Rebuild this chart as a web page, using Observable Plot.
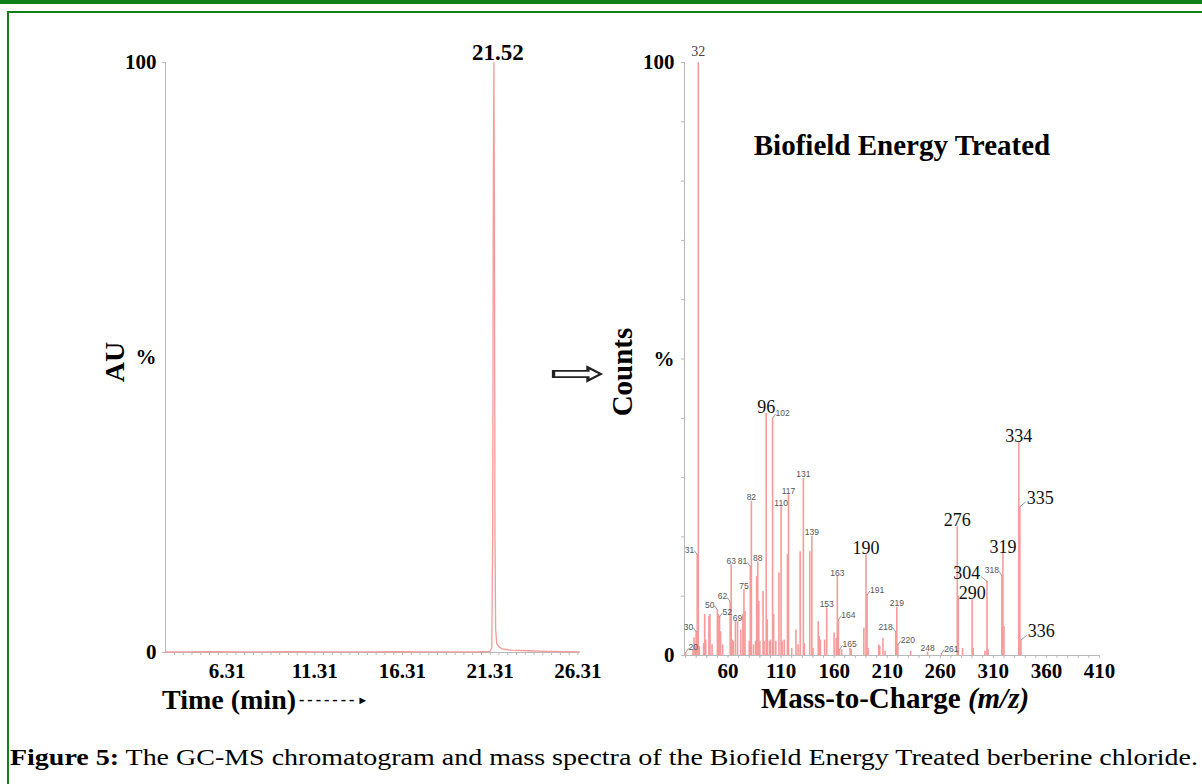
<!DOCTYPE html>
<html><head><meta charset="utf-8">
<script src="https://cdn.jsdelivr.net/npm/d3@7"></script>
<script src="https://cdn.jsdelivr.net/npm/@observablehq/plot@0.6"></script>
<style>
html,body{margin:0;padding:0;background:#fff;}
#fig{position:relative;width:1202px;height:784px;overflow:hidden;background:#fff;font-family:"Liberation Serif",serif;color:#000;}
.abs{position:absolute;white-space:nowrap;}
.plot{position:absolute;top:0;}
</style></head><body><div id="fig"></div>
<script>
// ---------- DATA ----------
// Left: GC chromatogram (time in min, relative abundance AU %)
const chromTime = [2.8, 4.0, 5.5, 7.0, 8.5, 10.0, 11.5, 13.0, 14.5, 16.0, 17.5, 19.0, 20.5, 21.3, 21.40, 21.45, 21.49, 21.52, 21.55, 21.58, 21.62, 21.68, 21.8, 22.0, 22.5, 23.5, 24.5, 25.5, 26.4];
const chromAU   = [0.1, 0.1, 0.15, 0.1, 0.1, 0.15, 0.1, 0.1, 0.1, 0.15, 0.1, 0.1, 0.1, 0.2, 0.8, 20, 80, 100, 75, 20, 4, 1.5, 1.0, 0.6, 0.4, 0.3, 0.2, 0.15, 0.1];
const retentionPeak = [21.52];
const timeTicks = [6.31, 11.31, 16.31, 21.31, 26.31];

// Right: mass spectrum (m/z, relative counts %)
const mzValues = [20, 27, 28, 29, 30, 31, 32, 33, 37, 38, 39, 42, 43, 45, 50, 51, 52, 53, 55, 62, 63, 64, 65, 67, 69, 72, 74, 75, 76, 80, 81, 82, 84, 86, 87, 88, 89, 90, 93, 94, 96, 97, 99, 100, 102, 103, 105, 108, 110, 111, 113, 116, 117, 120, 124, 126, 128, 131, 132, 137, 139, 140, 145, 146, 147, 151, 153, 160, 162, 163, 164, 165, 167, 175, 176, 188, 190, 191, 192, 202, 203, 206, 208, 218, 219, 220, 232, 248, 261, 276, 277, 281, 290, 291, 302, 304, 305, 318, 319, 320, 334, 335, 336];
const mzCounts = [0.5, 1.0, 3.0, 1.5, 4.0, 17.0, 100, 1.5, 2.0, 6.9, 2.6, 6.6, 6.9, 1.8, 7.7, 6.9, 6.5, 4.0, 1.8, 9.1, 15.3, 2.6, 2.4, 5.7, 5.7, 4.3, 6.9, 11.1, 7.4, 2.4, 15.0, 26.0, 1.8, 2.4, 13.3, 15.8, 9.1, 2.4, 10.8, 2.4, 40.8, 6.0, 2.4, 2.6, 40.0, 6.9, 2.4, 13.9, 25.1, 2.4, 2.6, 17.0, 27.1, 1.2, 4.3, 1.8, 17.5, 29.9, 2.0, 17.5, 20.1, 1.2, 5.7, 3.2, 2.6, 2.6, 8.0, 3.8, 2.9, 13.3, 6.0, 1.0, 1.0, 1.2, 1.0, 4.6, 17.0, 10.2, 1.2, 1.8, 1.5, 2.9, 0.7, 4.0, 8.1, 1.8, 0.7, 0.6, 0.3, 21.7, 10.0, 1.2, 9.4, 1.2, 0.7, 12.5, 1.0, 13.5, 17.2, 4.9, 35.9, 25.1, 2.6];
const labelsBig   = [96, 190, 276, 290, 304, 319, 334, 335, 336];
const labelsMid   = [32];
const labelsSmall = [20, 30, 31, 50, 52, 62, 63, 69, 75, 81, 82, 88, 102, 110, 117, 131, 139, 153, 163, 164, 165, 191, 218, 219, 220, 248, 261, 318];
const leaderLeft  = [30, 31, 50, 62, 81, 218, 304, 318];
const leaderRight = [20, 52, 102, 164, 165, 191, 220, 261, 335, 336];
const mzTicks = [60, 110, 160, 210, 260, 310, 360, 410];

// ---------- BUILD ----------
const fig = document.getElementById("fig");
const PINK = "#f79a9a";
const AXIS = "#b9b9b9";
const SERIF = "Liberation Serif";

function add(html, css) {
  const d = document.createElement("div");
  d.className = "abs";
  d.innerHTML = html;
  Object.assign(d.style, css);
  fig.appendChild(d);
  return d;
}

// frame borders
add("", {left: "0px", top: "0px", width: "1202px", height: "4px", background: "#12801a"});
add("", {left: "7px", top: "11px", width: "1195px", height: "2px", background: "#12801a"});
add("", {left: "7px", top: "11px", width: "2px", height: "773px", background: "#12801a"});

// ----- left chromatogram -----
const chrom = chromTime.map((t, i) => ({t, v: chromAU[i]}));
const peakRows = retentionPeak.map(t => ({t, v: chrom.find(d => d.t === t).v, text: t.toFixed(2)}));
const leftPlot = Plot.plot({
  width: 600, height: 700,
  marginLeft: 165, marginRight: 21, marginTop: 62, marginBottom: 48,
  style: {fontFamily: SERIF, background: "transparent", overflow: "visible", color: "#000"},
  x: {domain: [2.8, 26.4]},
  y: {domain: [0, 100]},
  marks: [
    Plot.ruleX([2.8], {stroke: AXIS}),
    Plot.ruleY([0], {stroke: AXIS}),
    Plot.axisX({ticks: d3.range(3.31, 26.4, 0.5), tickSize: 3, fill: "none", stroke: AXIS, label: null}),
    Plot.axisX({ticks: timeTicks, tickSize: 0, tickPadding: 11, fontSize: 21, fontWeight: "bold", tickFormat: d => d.toFixed(2), label: null}),
    Plot.axisY({ticks: [0, 100], tickSize: 3, fill: "none", stroke: AXIS, label: null}),
    Plot.axisY({ticks: [0, 50, 100], tickSize: 0, tickPadding: 9, fontSize: 21, fontWeight: "bold", tickFormat: d => d === 50 ? "%" : String(d), label: null}),
    Plot.line(chrom, {x: "t", y: "v", stroke: PINK, strokeWidth: 1.3}),
    Plot.text(peakRows, {x: "t", y: "v", text: "text", lineAnchor: "bottom", dx: 4, dy: -3, fontSize: 23, fontWeight: "bold"})
  ]
});
leftPlot.classList.add("plot");
leftPlot.style.left = "0px";
fig.appendChild(leftPlot);

// ----- right mass spectrum -----
const spec = mzValues.map((mz, i) => ({mz, v: mzCounts[i]}));
const byMz = new Map(spec.map(d => [d.mz, d]));
function rows(list, lx, ly) { // lx, ly: leader length in data units
  return list.map(m => {
    const d = byMz.get(m);
    const s = leaderLeft.includes(m) ? -1 : leaderRight.includes(m) ? 1 : 0;
    return {mz: m, v: d.v, s, x2: m + s * lx, y2: d.v + (s ? ly : 0), text: String(m)};
  });
}
const big = rows(labelsBig, 5.5, 0.8), mid = rows(labelsMid, 0, 0), small = rows(labelsSmall, 2.8, 0.7);
const allLab = big.concat(mid, small);
const smallFont = {fontSize: 8.5, fontFamily: "Liberation Sans", fill: "#555"};
const rightPlot = Plot.plot({
  width: 602, height: 700,
  marginLeft: 84, marginRight: 103, marginTop: 62, marginBottom: 45,
  style: {fontFamily: SERIF, background: "transparent", overflow: "visible", color: "#000"},
  x: {domain: [19, 410]},
  y: {domain: [0, 100]},
  marks: [
    Plot.ruleX([19], {stroke: AXIS}),
    Plot.ruleY([0], {stroke: AXIS}),
    Plot.axisX({ticks: d3.range(20, 411, 10), tickSize: 3, fill: "none", stroke: AXIS, label: null}),
    Plot.axisX({ticks: mzTicks, tickSize: 0, tickPadding: 8, fontSize: 21, fontWeight: "bold", label: null}),
    Plot.axisY({ticks: d3.range(0, 101, 10), tickSize: 3, fill: "none", stroke: AXIS, label: null}),
    Plot.axisY({ticks: [0, 50, 100], tickSize: 0, tickPadding: 10, fontSize: 21, fontWeight: "bold", tickFormat: d => d === 50 ? "%" : String(d), label: null}),
    Plot.ruleX(spec, {x: "mz", y1: 0, y2: "v", stroke: PINK, strokeWidth: 1.6}),
    Plot.link(allLab.filter(r => r.s), {x1: "mz", y1: "v", x2: "x2", y2: "y2", stroke: "#8a8a8a", strokeWidth: 0.9}),
    // big labels
    Plot.text(big.filter(r => r.s === 0), {x: "mz", y: "v", text: "text", lineAnchor: "bottom", dy: -1, fontSize: 18, fill: "#111"}),
    Plot.text(big.filter(r => r.s < 0), {x: "x2", y: "y2", text: "text", textAnchor: "end", lineAnchor: "bottom", dx: -1, dy: 2, fontSize: 18, fill: "#111"}),
    Plot.text(big.filter(r => r.s > 0), {x: "x2", y: "y2", text: "text", textAnchor: "start", lineAnchor: "bottom", dx: 1, dy: 2, fontSize: 18, fill: "#111"}),
    // mid label (base peak)
    Plot.text(mid, {x: "mz", y: "v", text: "text", lineAnchor: "bottom", dy: -7, fontSize: 14, fill: "#444"}),
    // small labels
    Plot.text(small.filter(r => r.s === 0), {x: "mz", y: "v", text: "text", lineAnchor: "bottom", dy: -1, ...smallFont}),
    Plot.text(small.filter(r => r.s < 0), {x: "x2", y: "y2", text: "text", textAnchor: "end", lineAnchor: "bottom", dx: 0, dy: 2, ...smallFont}),
    Plot.text(small.filter(r => r.s > 0), {x: "x2", y: "y2", text: "text", textAnchor: "start", lineAnchor: "bottom", dx: 0, dy: 2, ...smallFont})
  ]
});
rightPlot.classList.add("plot");
rightPlot.style.left = "600px";
fig.appendChild(rightPlot);

// ----- texts -----
add("AU", {left: "115px", top: "362px", transform: "translate(-50%,-50%) rotate(-90deg)", fontSize: "28px", fontWeight: "bold", fontFamily: SERIF, lineHeight: "1"});
add("Counts", {left: "622px", top: "372px", transform: "translate(-50%,-50%) rotate(-90deg)", fontSize: "29px", fontWeight: "bold", fontFamily: SERIF, lineHeight: "1"});
add("&#x21E8;", {left: "578px", top: "372px", transform: "translate(-50%,-50%) scale(2.0,1.05)", fontSize: "34px", fontFamily: "DejaVu Sans", lineHeight: "1", color: "#222"});
add("Biofield Energy Treated", {left: "902px", top: "145px", transform: "translate(-50%,-50%)", fontSize: "29px", fontWeight: "bold", fontFamily: SERIF, lineHeight: "1"});
add('Time (min)<span style="font-size:16px;letter-spacing:3px;vertical-align:4px;margin-left:3px">-------</span><span style="font-size:11px;vertical-align:5px">&#x25BA;</span>', {left: "162px", top: "700px", transform: "translateY(-50%)", fontSize: "28px", fontWeight: "bold", fontFamily: SERIF, lineHeight: "1"});
add('Mass-to-Charge <i>(m/z)</i>', {left: "895px", top: "698px", transform: "translate(-50%,-50%)", fontSize: "29px", fontWeight: "bold", fontFamily: SERIF, lineHeight: "1"});
const cap = add('<b>Figure 5:</b> The GC-MS chromatogram and mass spectra of the Biofield Energy Treated berberine chloride.', {left: "10px", top: "745px", transformOrigin: "0 0", fontSize: "24px", fontFamily: SERIF, lineHeight: "1"});
// fit caption width to the figure box
const target = 1188;
const w = cap.getBoundingClientRect().width;
cap.style.transform = "scaleX(" + (target / w) + ")";
</script></body></html>
